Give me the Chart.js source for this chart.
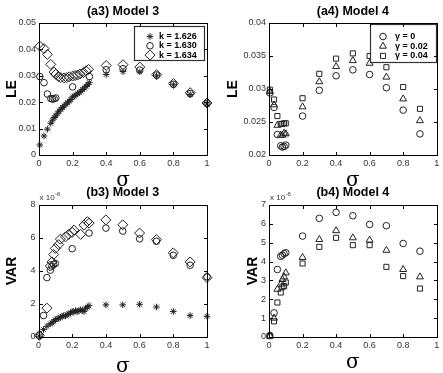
<!DOCTYPE html>
<html lang="en">
<head>
<meta charset="UTF-8">
<title>LE and VAR vs sigma, Models 3 and 4</title>
<script src="https://cdn.jsdelivr.net/npm/chart.js"></script>
<style>
  body { margin: 0; overflow: hidden; background: #fff; width: 443px; height: 373px; }
  canvas { position: absolute; }
  .frame { position: absolute; box-sizing: border-box; border: 1px solid #000; pointer-events: none; }
  .tk { position: absolute; background: #000; pointer-events: none; }
</style>
</head>
<body>
<canvas id="a3" width="222" height="187" style="left:0px;top:0px"></canvas>
<canvas id="a4" width="221" height="187" style="left:222px;top:0px"></canvas>
<canvas id="b3" width="222" height="186" style="left:0px;top:187px"></canvas>
<canvas id="b4" width="221" height="186" style="left:222px;top:187px"></canvas>
<script>
// ---- Model 3 (k = 1.626 / 1.630 / 1.634) ----
const sigStar3 = [0.005, 0.03, 0.05, 0.07, 0.08, 0.09, 0.1, 0.11, 0.12, 0.13, 0.14, 0.15, 0.16, 0.17,
                  0.18, 0.19, 0.2, 0.21, 0.22, 0.23, 0.24, 0.25, 0.26, 0.27, 0.28, 0.29, 0.3,
                  0.4, 0.5, 0.6, 0.7, 0.8, 0.9, 1.0];
const leStar3 = [0.0038, 0.0072, 0.0098, 0.0120, 0.0132, 0.0142, 0.0148, 0.0158, 0.0166, 0.0173, 0.0180,
                 0.0186, 0.0192, 0.0198, 0.0204, 0.0210, 0.0220, 0.0223, 0.0228, 0.0232, 0.0237, 0.0242,
                 0.0248, 0.0254, 0.0260, 0.0266, 0.0274, 0.0305, 0.0316, 0.0315, 0.0300, 0.0266, 0.0229, 0.0193];
const varStar3 = [0.05, 0.45, 0.65, 0.8, 0.85, 0.95, 1.05, 1.1, 1.12, 1.2, 1.25, 1.3, 1.28, 1.35,
                  1.4, 1.45, 1.55, 1.5, 1.6, 1.55, 1.58, 1.65, 1.6, 1.55, 1.75, 1.8, 1.9,
                  1.95, 1.95, 1.98, 1.82, 1.55, 1.3, 1.25];

const sigCirc3 = [0.005, 0.03, 0.05, 0.07, 0.08, 0.09, 0.1, 0.2, 0.3, 0.4, 0.5, 0.6, 0.7, 0.8, 0.9, 1.0];
const leCirc3  = [0.0297, 0.0274, 0.0231, 0.0214, 0.0212, 0.0213, 0.0216, 0.0258, 0.0297, 0.0323,
                  0.0327, 0.0322, 0.0303, 0.0268, 0.0233, 0.0195];
const varCirc3 = [0.08, 1.3, 3.6, 4.05, 4.3, 4.4, 4.45, 5.35, 6.3, 6.6, 6.42, 5.95, 5.8, 4.95, 4.35, 3.65];

const sigDia3 = [0.005, 0.03, 0.05, 0.07, 0.09, 0.1, 0.115, 0.13, 0.15, 0.165, 0.18, 0.2, 0.215,
                 0.23, 0.245, 0.265, 0.28, 0.295, 0.4, 0.5, 0.6, 0.7, 0.8, 0.9, 1.0];
const leDia3  = [0.0412, 0.0403, 0.0381, 0.0343, 0.0314, 0.0306, 0.0297, 0.0293, 0.0292, 0.0293, 0.0296,
                 0.0299, 0.0301, 0.0303, 0.0307, 0.0312, 0.0319, 0.0324, 0.0339, 0.0342, 0.0333, 0.0304,
                 0.0271, 0.0236, 0.0197];
const sigVarDia3 = [0.005, 0.05, 0.07, 0.08, 0.09, 0.1, 0.12, 0.13, 0.16, 0.18, 0.2, 0.21, 0.25, 0.27,
                    0.29, 0.3, 0.4, 0.5, 0.6, 0.7, 0.8, 0.9, 1.0];
const varDia3 = [0.1, 1.75, 4.3, 4.55, 5.0, 5.37, 5.6, 5.93, 6.07, 6.22, 6.34, 6.48, 6.22, 6.78,
                 6.99, 6.9, 7.1, 6.8, 6.3, 5.9, 5.1, 4.55, 3.6];

// ---- Model 4 (gamma = 0 / 0.02 / 0.04) ----
const sig4  = [0.005, 0.03, 0.05, 0.07, 0.08, 0.09, 0.1, 0.2, 0.3, 0.4, 0.5, 0.6, 0.7, 0.8, 0.9];
const leG0  = [0.0294, 0.0272, 0.0231, 0.0214, 0.0212, 0.0213, 0.0215, 0.0259, 0.0298, 0.0320, 0.0329, 0.0322, 0.0302, 0.0268, 0.0232];
const leG2  = [0.0296, 0.0276, 0.0245, 0.0230, 0.0230, 0.0233, 0.0232, 0.0273, 0.0311, 0.0334, 0.0343, 0.0339, 0.0318, 0.0285, 0.0252];
const leG4  = [0.0299, 0.0284, 0.0259, 0.0247, 0.0247, 0.0248, 0.0248, 0.0286, 0.0323, 0.0346, 0.0354, 0.0350, 0.0333, 0.0303, 0.0270];
const varG0 = [0.08, 1.28, 3.58, 4.28, 4.34, 4.42, 4.47, 5.35, 6.29, 6.61, 6.43, 5.97, 5.9, 4.96, 4.55];
const varG2 = [0.05, 1.0, 2.53, 2.8, 3.05, 3.19, 3.4, 4.22, 5.17, 5.64, 5.26, 5.14, 4.6, 3.58, 3.19];
const varG4 = [0.05, 0.83, 1.83, 2.36, 2.66, 2.7, 2.89, 3.9, 4.78, 5.26, 4.87, 4.87, 3.72, 3.23, 2.57];

const kLabels = ['k = 1.626', 'k = 1.630', 'k = 1.634'];
const gLabels = ['\u03b3 = 0', '\u03b3 = 0.02', '\u03b3 = 0.04'];
const xTicks = [0, 0.2, 0.4, 0.6, 0.8, 1];

const FONT = '"Liberation Sans", Arial, Helvetica, sans-serif';
const SERIF = '"DejaVu Serif", "Liberation Serif", serif';
const INK = '#222';

function pts(xs, ys) {
  return xs.map((x, i) => ({ x: x, y: ys[i] }));
}
function series(label, xs, ys, style, r) {
  return {
    label: label, data: pts(xs, ys), showLine: false, clip: false,
    pointStyle: style, pointRadius: r, pointBorderWidth: 1,
    borderColor: INK, backgroundColor: 'rgba(0,0,0,0)', borderWidth: 1
  };
}

// axes box with inward ticks, legend box and the "x 10^-6" note
const notesPlugin = {
  id: 'notes',
  afterDraw(chart, args, opts) {
    const { ctx, chartArea: a, scales } = chart;
    const L0 = Math.round(a.left) + 0.5, R0 = Math.round(a.right) + 0.5;
    const T0 = Math.round(a.top) + 0.5, B0 = Math.round(a.bottom) + 0.5;
    ctx.save();
    ctx.strokeStyle = '#000';
    ctx.lineWidth = 1;
    ctx.strokeRect(L0, T0, R0 - L0, B0 - T0);
    ctx.beginPath();
    scales.x.ticks.forEach(t => {
      const px = Math.round(scales.x.getPixelForValue(t.value)) + 0.5;
      ctx.moveTo(px, B0); ctx.lineTo(px, B0 - 3);
      ctx.moveTo(px, T0); ctx.lineTo(px, T0 + 3);
    });
    scales.y.ticks.forEach(t => {
      const py = Math.round(scales.y.getPixelForValue(t.value)) + 0.5;
      ctx.moveTo(L0, py); ctx.lineTo(L0 + 3, py);
      ctx.moveTo(R0, py); ctx.lineTo(R0 - 3, py);
    });
    ctx.stroke();

    if (opts.legend) {
      const L = opts.legend;
      const x0 = Math.round(a.right - L.right - L.w), y0 = Math.round(a.top + L.top);
      ctx.fillStyle = '#fff';
      ctx.fillRect(x0, y0, L.w, L.h);
      ctx.strokeStyle = '#333';
      ctx.lineWidth = 1.2;
      ctx.strokeRect(x0 + 0.5, y0 + 0.5, L.w, L.h);
      chart.data.datasets.forEach((ds, i) => {
        const y = y0 + L.row0 + i * L.gap;
        ctx.strokeStyle = ds.borderColor;
        ctx.fillStyle = 'rgba(0,0,0,0)';
        ctx.lineWidth = 1;
        Chart.helpers.drawPoint(ctx, { pointStyle: ds.pointStyle, radius: ds.pointRadius, borderWidth: 1, rotation: 0 }, x0 + L.mark, y);
        ctx.fillStyle = '#000';
        ctx.font = 'bold 9px ' + FONT;
        ctx.textBaseline = 'middle';
        ctx.textAlign = 'left';
        ctx.fillText(ds.label, x0 + L.text, y);
      });
    }
    if (opts.exponent) {
      ctx.fillStyle = '#333';
      ctx.textAlign = 'left';
      ctx.textBaseline = 'alphabetic';
      ctx.font = '8px ' + FONT;
      ctx.fillText('x 10', a.left + 1, a.top - 5);
      const w = ctx.measureText('x 10').width;
      ctx.font = '6px ' + FONT;
      ctx.fillText(opts.exponent, a.left + 1.5 + w, a.top - 9);
    }
    ctx.restore();
  }
};

function addMark(cls, x, y, w, h) {
  const d = document.createElement('div');
  d.className = cls;
  d.style.left = x + 'px'; d.style.top = y + 'px';
  d.style.width = w + 'px'; d.style.height = h + 'px';
  document.body.appendChild(d);
}

// same box laid over the canvas, placed from the chart's own scales
function addFrame(chart) {
  const ox = chart.canvas.offsetLeft, oy = chart.canvas.offsetTop;
  const a = chart.chartArea;
  const L = Math.round(a.left), T = Math.round(a.top), R = Math.round(a.right), B = Math.round(a.bottom);
  addMark('frame', ox + L, oy + T, R - L + 1, B - T + 1);
  const sx = chart.scales.x, sy = chart.scales.y;
  sx.ticks.forEach(t => {
    const p = Math.round(sx.getPixelForValue(t.value));
    addMark('tk', ox + p, oy + B - 3, 1, 3);
    addMark('tk', ox + p, oy + T + 1, 1, 3);
  });
  sy.ticks.forEach(t => {
    const p = Math.round(sy.getPixelForValue(t.value));
    addMark('tk', ox + L + 1, oy + p, 3, 1);
    addMark('tk', ox + R - 3, oy + p, 3, 1);
  });
}

function makePanel(id, cfg) {
  const chart = new Chart(document.getElementById(id), {
    type: 'scatter',
    data: { datasets: cfg.datasets },
    options: {
      responsive: false,
      animation: false,
      events: [],
      layout: { padding: { left: 0, right: cfg.padRight, top: 0, bottom: 0 } },
      plugins: {
        legend: { display: false },
        tooltip: { enabled: false },
        title: {
          display: true, text: cfg.title, fullSize: false, color: '#000',
          font: { family: FONT, size: 12.5, weight: 'bold', lineHeight: 1 },
          padding: { top: cfg.titleTop, bottom: cfg.titleBottom }
        },
        notes: { legend: cfg.legend, exponent: cfg.exponent }
      },
      scales: {
        x: {
          type: 'linear', min: 0, max: 1,
          grid: { display: false, drawTicks: false, tickLength: 0 }, border: { display: false },
          afterBuildTicks: s => { s.ticks = xTicks.map(v => ({ value: v })); },
          ticks: { font: { family: FONT, size: 9 }, color: '#333', padding: 3, maxRotation: 0,
                   callback: v => String(+v.toFixed(2)) },
          title: { display: true, text: '\u03c3', color: '#000',
                   font: { family: SERIF, size: 20, lineHeight: 1 },
                   padding: { top: 0, bottom: cfg.sigmaPad } },
          afterFit: s => { s.height = cfg.xHeight; }
        },
        y: {
          type: 'linear', min: cfg.yMin, max: cfg.yMax,
          grid: { display: false, drawTicks: false, tickLength: 0 }, border: { display: false },
          afterBuildTicks: s => { s.ticks = cfg.yTicks.map(v => ({ value: v })); },
          ticks: { font: { family: FONT, size: 9 }, color: '#333', padding: 3,
                   callback: v => String(+v.toFixed(3)) },
          title: { display: true, text: cfg.yTitle, color: '#000',
                   font: { family: FONT, size: 14, weight: 'bold', lineHeight: 1 },
                   padding: { top: cfg.yTitlePad, bottom: 0 } },
          afterFit: s => { s.width = cfg.yWidth; }
        }
      }
    },
    plugins: [notesPlugin]
  });
  addFrame(chart);
  return chart;
}

const legend3 = { right: 3, top: 2.5, w: 70, h: 34, row0: 10.5, gap: 9.3, mark: 16, text: 25 };
const legend4 = { right: 1, top: 1, w: 66, h: 38, row0: 12.5, gap: 9.7, mark: 13, text: 25 };

// top row: canvas 187 tall, plot 23..155; bottom row: canvas starts at 187, plot 205..337
makePanel('a3', {
  title: '(a3) Model 3', yTitle: 'LE',
  datasets: [
    series(kLabels[0], sigStar3, leStar3, 'star', 3.3),
    series(kLabels[1], sigCirc3, leCirc3, 'circle', 3.3),
    series(kLabels[2], sigDia3, leDia3, 'rectRot', 5)
  ],
  yMin: 0, yMax: 0.05, yTicks: [0, 0.01, 0.02, 0.03, 0.04, 0.05],
  yWidth: 39, padRight: 15, xHeight: 32, titleTop: 5.5, titleBottom: 5,
  sigmaPad: -4, yTitlePad: 5, legend: legend3
});

makePanel('a4', {
  title: '(a4) Model 4', yTitle: 'LE',
  datasets: [
    series(gLabels[0], sig4, leG0, 'circle', 3.3),
    series(gLabels[1], sig4, leG2, 'triangle', 4),
    series(gLabels[2], sig4, leG4, 'rect', 3.6)
  ],
  yMin: 0.02, yMax: 0.04, yTicks: [0.02, 0.025, 0.03, 0.035, 0.04],
  yWidth: 47, padRight: 6.3, xHeight: 32, titleTop: 5.5, titleBottom: 5,
  sigmaPad: -4, yTitlePad: 3.7, legend: legend4
});

makePanel('b3', {
  title: '(b3) Model 3', yTitle: 'VAR',
  datasets: [
    series(kLabels[0], sigStar3, varStar3, 'star', 3.3),
    series(kLabels[1], sigCirc3, varCirc3, 'circle', 3.3),
    series(kLabels[2], sigVarDia3, varDia3, 'rectRot', 5)
  ],
  yMin: 0, yMax: 8, yTicks: [0, 2, 4, 6, 8],
  yWidth: 38.5, padRight: 15, xHeight: 36, titleTop: -1, titleBottom: 6.5,
  sigmaPad: -3.7, yTitlePad: 4.7, exponent: '-6'
});

makePanel('b4', {
  title: '(b4) Model 4', yTitle: 'VAR',
  datasets: [
    series(gLabels[0], sig4, varG0, 'circle', 3.3),
    series(gLabels[1], sig4, varG2, 'triangle', 4),
    series(gLabels[2], sig4, varG4, 'rect', 3.6)
  ],
  yMin: 0, yMax: 7, yTicks: [0, 1, 2, 3, 4, 5, 6, 7],
  yWidth: 47, padRight: 6.3, xHeight: 36, titleTop: -1, titleBottom: 6.5,
  sigmaPad: 0.5, yTitlePad: 24.3, exponent: '-6'
});
</script>
</body>
</html>
